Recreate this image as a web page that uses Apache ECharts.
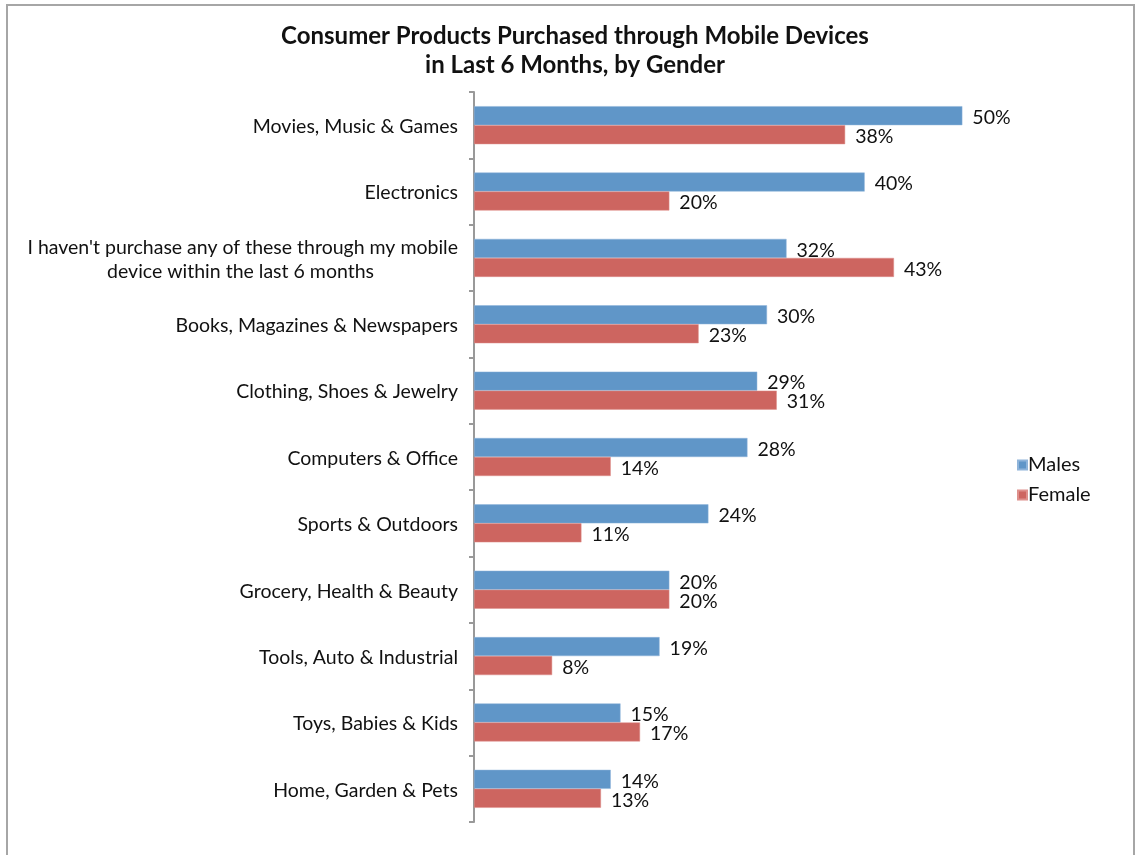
<!DOCTYPE html>
<html>
<head>
<meta charset="utf-8">
<script src="https://cdn.jsdelivr.net/npm/echarts@6/dist/echarts.min.js"></script>
<style>
  html, body { margin: 0; padding: 0; background: #fff; }
  #chart { width: 1137px; height: 855px; }
</style>
</head>
<body>
<div id="chart"></div>
<script>
const categories = [
  'Movies, Music & Games',
  'Electronics',
  "I haven't purchase any of these through my mobile\ndevice within the last 6 months",
  'Books, Magazines & Newspapers',
  'Clothing, Shoes & Jewelry',
  'Computers & Office',
  'Sports & Outdoors',
  'Grocery, Health & Beauty',
  'Tools, Auto & Industrial',
  'Toys, Babies & Kids',
  'Home, Garden & Pets'
];
const males = [50, 40, 32, 30, 29, 28, 24, 20, 19, 15, 14];
const female = [38, 20, 43, 23, 31, 14, 11, 20, 8, 17, 13];

const FONT = 'Lato';
const chart = echarts.init(document.getElementById('chart'));

const valueLabel = {
  show: true,
  position: 'right',
  distance: 10,
  offset: [0, 2],
  formatter: '{c}%',
  fontFamily: FONT,
  fontSize: 19.5,
  color: '#111'
};

chart.setOption({
  backgroundColor: '#fff',
  animation: false,
  title: {
    text: 'Consumer Products Purchased through Mobile Devices\nin Last 6 Months, by Gender',
    left: 570,
    textAlign: 'center',
    top: 17,
    textStyle: {
      fontFamily: FONT,
      fontWeight: 'bold',
      fontSize: 24,
      lineHeight: 29,
      color: '#111'
    }
  },
  legend: {
    orient: 'vertical',
    left: 1012,
    top: 450,
    icon: 'rect',
    itemWidth: 9,
    itemHeight: 9,
    itemGap: 10,
    textStyle: { fontFamily: FONT, fontSize: 20, color: '#111', padding: [5, 0, 0, -4] },
    data: ['Males', 'Female']
  },
  graphic: [{
    type: 'rect',
    shape: { x: 7, y: 5, width: 1127, height: 900 },
    style: { fill: 'none', stroke: '#a6a6a6', lineWidth: 2 },
    silent: true
  }],
  grid: { left: 474, top: 92, width: 586, height: 730, containLabel: false },
  xAxis: {
    type: 'value',
    min: 0,
    max: 60,
    show: false
  },
  yAxis: {
    type: 'category',
    inverse: true,
    data: categories,
    axisLine: { show: true, lineStyle: { color: '#999', width: 2 } },
    axisTick: { show: true, length: 5, lineStyle: { color: '#999', width: 2 } },
    axisLabel: {
      margin: 16,
      fontFamily: FONT,
      fontSize: 19.5,
      color: '#111',
      lineHeight: 24,
      formatter: function (v) {
        const parts = v.split('\n');
        if (parts.length === 1) return '{a|' + v + '}';
        return '{a|' + parts[0] + '}\n{b|' + parts[1] + '}';
      },
      rich: {
        a: { fontFamily: FONT, fontSize: 19.5, color: '#111', lineHeight: 24, padding: [3, 0, 0, 0] },
        b: { fontFamily: FONT, fontSize: 19.5, color: '#111', lineHeight: 24, padding: [3, 84, 0, 0] }
      }
    }
  },
  series: [
    {
      name: 'Males',
      type: 'bar',
      data: males,
      barWidth: 19,
      barGap: '0%',
      itemStyle: { color: '#6096c8', borderColor: '#8fb4da', borderWidth: 0.5 },
      label: valueLabel
    },
    {
      name: 'Female',
      type: 'bar',
      data: female,
      barWidth: 19,
      barGap: '0%',
      itemStyle: { color: '#cd6560', borderColor: '#de908c', borderWidth: 0.5 },
      label: valueLabel
    }
  ]
});
</script>
</body>
</html>
